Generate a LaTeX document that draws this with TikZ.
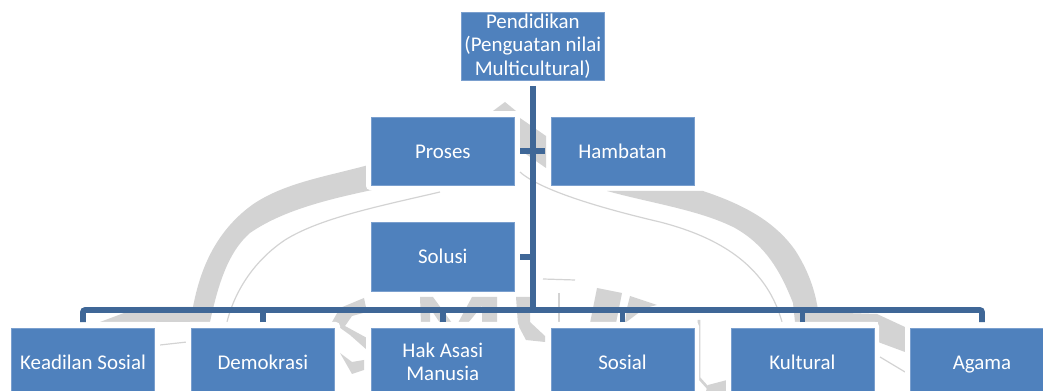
\documentclass[tikz,border=0pt]{standalone}
\usepackage{fontspec}
\setmainfont{Carlito}
\definecolor{boxblue}{HTML}{4F81BD}
\definecolor{boxedge}{HTML}{7A9FCE}
\definecolor{linkblue}{HTML}{3F6797}
\definecolor{mark}{HTML}{D3D3D3}
\tikzset{
  px/.style={x=0.75pt,y=-0.75pt},
  bluebox/.style={fill=boxblue,draw=boxedge,line width=0.3pt,minimum width=107.4pt,minimum height=51.2pt,inner sep=0pt,
    text=white,align=center,font=\fontsize{15.7}{17.7}\selectfont},
  halo/.style={fill=white,rounded corners=3pt},
  link/.style={draw=linkblue,line width=4.2pt},
  gap/.style={shorten <=4.2pt},
  wmfill/.style={fill=mark,draw=none},
  wmline/.style={draw=mark,line width=0.9pt}
}
\begin{document}
\begin{tikzpicture}[px]
\useasboundingbox (0,0) rectangle (1043,391);
\clip (0,0) rectangle (1043,391);
% faded watermark
\fill[wmfill] (193,322) -- (193,307) .. controls (200,270) and (215,232) .. (252,205) .. controls (285,182) and (330,176) .. (372,164)
  -- (372,190) .. controls (330,199) and (283,210) .. (250,233) .. controls (228,252) and (218,285) .. (210,322) -- cycle;
\fill[wmfill] (100,322) -- (140,307) -- (193,307) -- (210,322) -- cycle;
\fill[wmfill] (607,191) -- (703,191) .. controls (745,205) and (775,222) .. (795,250) .. controls (808,270) and (815,290) .. (818,310)
  -- (845,313) -- (877,314) -- (905,327) -- (905,352) -- (878,342) -- (878,322) -- (795,322) -- (793,303) .. controls (780,270) and (765,245) .. (735,228) .. controls (700,210) and (650,203) .. cycle;
\fill[wmfill] (493,111) -- (505,102) -- (516,111) -- cycle;
\fill[wmfill] (520,118) -- (546,136) -- (546,168) -- (520,150) -- cycle;
\draw[wmline] (440,192) .. controls (380,206) and (320,218) .. (285,240) .. controls (255,260) and (235,290) .. (227,322);
\draw[wmline] (520,172) .. controls (540,190) and (600,208) .. (660,222) .. controls (710,235) and (765,260) .. (782,322);
\draw[wmline] (160,345) -- (187,342);
\draw[wmline] (880,357) -- (905,372);
% watermark letters
\fill[wmfill] (364,298) -- (367,312) -- (352,316) -- (345,326) -- (367,338) -- (367,350) -- (350,335) -- (332,322) -- (340,308) -- cycle;
\fill[wmfill] (340,353) -- (352,362) -- (364,360) -- (364,370) -- (352,374) -- cycle;
\fill[wmfill] (420,297) -- (433,297) -- (452,323) -- (440,323) -- (430,308) -- (430,323) -- (421,323) -- cycle;
\fill[wmfill] (472,297) -- (497,297) -- (497,323) -- (482,323) -- (482,306) -- (468,323) -- (458,323) -- cycle;
\fill[wmfill] (516,297) -- (530,297) -- (530,322) -- (545,336) -- (545,342) -- (526,340) -- (518,325) -- cycle;
\draw[wmline,line width=2pt] (559,293) -- (559,323);
\draw[wmline] (543,279) -- (575,280);
\fill[wmfill] (597,288) -- (622,293) -- (616,323) -- (590,323) -- cycle;
\fill[wmfill] (630,296) -- (657,305) -- (645,308) -- (625,323) -- (627,308) -- cycle;
\draw[wmline,line width=2pt] (699,320) -- (699,378) -- (708,388);
\fill[wmfill] (708,385) -- (727,380) -- (727,391) -- (706,391) -- cycle;
% white halos around the lower boxes
\fill[halo] (5,322) rectangle (160,395);
\fill[halo] (186,322) rectangle (340,395);
\fill[halo] (366,322) rectangle (519,395);
\fill[halo] (546,322) rectangle (699,395);
\fill[halo] (726,322) rectangle (879,395);
\fill[halo] (905,322) rectangle (1050,395);
\fill[halo] (366,112) rectangle (519,190);
% nodes
\node[bluebox] (top) at (532.8,46) {Pendidikan\\(Penguatan nilai\\Multicultural)};
\node[bluebox] (proses) at (442.8,151.2) {\vphantom{l}Proses};
\node[bluebox] (hambatan) at (622.5,151.2) {Hambatan};
\node[bluebox] (solusi) at (442.8,256.8) {Solusi};
\node[bluebox] (keadilan) at (83,362) {Keadilan Sosial};
\node[bluebox] (demokrasi) at (262.8,362) {Demokrasi};
\node[bluebox] (ham) at (442.8,362) {Hak Asasi\\Manusia};
\node[bluebox] (sosial) at (622.5,362) {Sosial};
\node[bluebox] (kultural) at (802.3,362) {Kultural};
\node[bluebox] (agama) at (982,362) {\vphantom{l}\smash{Agama}};
\coordinate (bus) at (532.8,310);
% connectors
\draw[link,gap] (top.south) -- (top.south |- bus);
\draw[link,shorten <=4.2pt,shorten >=4.2pt,rounded corners=1.5pt] (keadilan.north) |- (bus) -| (agama.north);
\draw[link,gap] (demokrasi.north) -- (demokrasi.north |- bus);
\draw[link,gap] (ham.north) -- (ham.north |- bus);
\draw[link,gap] (sosial.north) -- (sosial.north |- bus);
\draw[link,gap] (kultural.north) -- (kultural.north |- bus);
\draw[link,gap] (proses.east) -- (top.south |- proses.east);
\draw[link,gap] (hambatan.west) -- (top.south |- hambatan.west);
\draw[link,gap] (solusi.east) -- (top.south |- solusi.east);
\end{tikzpicture}
\end{document}
